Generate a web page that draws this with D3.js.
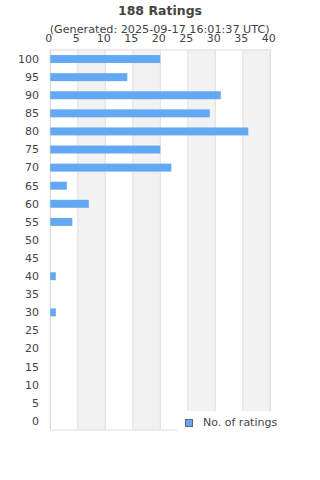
<!DOCTYPE html>
<html><head><meta charset="utf-8">
<script src="https://cdn.jsdelivr.net/npm/d3@7"></script>
<style>body{margin:0;background:#fff;}svg{display:block;font-family:"DejaVu Sans",sans-serif;}</style>
</head><body>
<svg id="c" width="320" height="480"></svg>
<script>
const categories = ["100","95","90","85","80","75","70","65","60","55","50","45","40","35","30","25","20","15","10","5","0"];
const ratings = [20,14,31,29,36,20,22,3,7,4,0,0,1,0,1,0,0,0,0,0,0];
const xTicks = [0,5,10,15,20,25,30,35,40];
const title = "188 Ratings";
const subtitle = "(Generated: 2025-09-17 16:01:37 UTC)";
const seriesName = "No. of ratings";

const svg = d3.select("#c");
const L = 50.3, R = 270.3, T = 50, B = 430;
const x = d3.scaleLinear().domain([0,40]).range([L,R]);
const y = d3.scaleBand().domain(categories).range([T,B]).paddingInner(0.56).paddingOuter(0.28);
const txt = "#444";

// bands
const bands = d3.pairs(xTicks).filter((d,i)=>i%2===1);
svg.selectAll("rect.band").data(bands).join("rect")
  .attr("x",d=>x(d[0])).attr("width",d=>x(d[1])-x(d[0]))
  .attr("y",T).attr("height",B-T).attr("fill","#f2f2f2");
// grid
svg.selectAll("line.g").data(xTicks).join("line")
  .attr("x1",d=>x(d)).attr("x2",d=>x(d)).attr("y1",T).attr("y2",B)
  .attr("stroke","#e0e0e0").attr("stroke-width",1);
svg.append("rect").attr("x",L).attr("y",T).attr("width",R-L).attr("height",B-T)
  .attr("fill","none").attr("stroke","#dcdcdc").attr("stroke-width",1);

// bars
svg.selectAll("rect.bar").data(categories).join("rect")
  .attr("x",x(0)).attr("y",d=>y(d)).attr("height",y.bandwidth())
  .attr("width",(d,i)=>x(ratings[i])-x(0)).attr("fill","#62a8f2");

// y labels
svg.selectAll("text.yl").data(categories).join("text")
  .attr("x",39).attr("y",d=>y(d)+y.bandwidth()/2).attr("dy","0.35em")
  .attr("text-anchor","end").attr("font-size",11).attr("fill",txt).text(d=>d);

// top axis labels
svg.selectAll("text.xl").data(xTicks).join("text")
  .attr("x",d=>x(d)-1.5).attr("y",42).attr("text-anchor","middle")
  .attr("font-size",11).attr("fill",txt).text(d=>d);

// titles
svg.append("text").attr("x",160).attr("y",15).attr("text-anchor","middle")
  .attr("font-size",12.5).attr("font-weight","bold").attr("fill",txt).text(title);
svg.append("text").attr("x",159.7).attr("y",32.5).attr("text-anchor","middle")
  .attr("font-size",11.2).attr("fill",txt).text(subtitle);

// legend
svg.append("rect").attr("x",177).attr("y",411).attr("width",143).attr("height",30).attr("fill","#fff");
svg.append("rect").attr("x",185.5).attr("y",419.5).attr("width",7).attr("height",7)
  .attr("fill","#62a8f2").attr("stroke","#666").attr("stroke-width",1);
svg.append("text").attr("x",203).attr("y",426).attr("font-size",11).attr("fill",txt).text(seriesName);
</script>
</body></html>
